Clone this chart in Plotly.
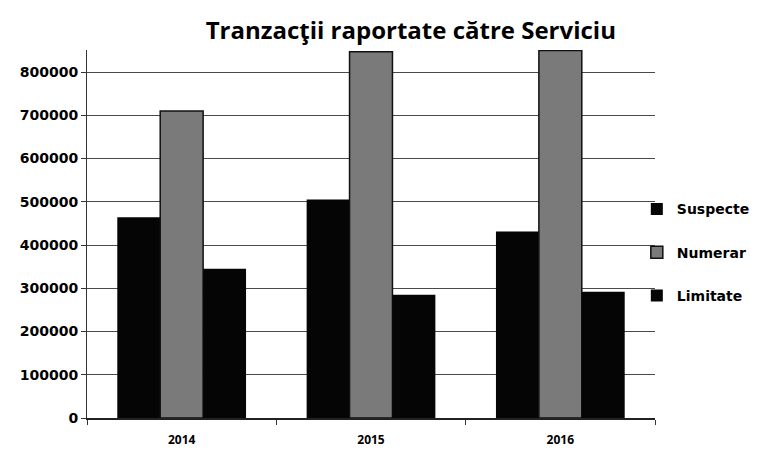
import plotly.graph_objects as go

# Date
ani = ["2014", "2015", "2016"]
suspecte = [464000, 505000, 431000]
numerar = [710000, 847000, 850000]
limitate = [345000, 285000, 292000]
y_ticks = [0, 100000, 200000, 300000, 400000, 500000, 600000, 700000, 800000]

FONT = "Open Sans"
FONT2 = "DejaVu Sans"

fig = go.Figure()

fig.add_trace(go.Bar(x=ani, y=suspecte, name="Suspecte",
                     marker=dict(color="#050505", line=dict(width=0)),
                     legendgroup="a"))
fig.add_trace(go.Bar(x=ani, y=numerar, name="Numerar",
                     marker=dict(color="#7a7a7a", line=dict(color="#111111", width=1.5)),
                     legendgroup="b"))
fig.add_trace(go.Bar(x=ani, y=limitate, name="Limitate",
                     marker=dict(color="#050505", line=dict(width=0)),
                     legendgroup="c"))

fig.update_layout(
    width=760, height=455,
    margin=dict(l=79, r=113, t=42, b=45, autoexpand=False),
    paper_bgcolor="white", plot_bgcolor="white",
    barmode="group", bargap=0.32, bargroupgap=0,
    font=dict(family=FONT, color="black", weight="bold"),
    title=dict(text="Tranzacţii raportate către Serviciu", x=0.53, xanchor="center",
               y=0.95, yanchor="middle",
               font=dict(family=FONT, size=24, color="black", weight="bold")),
    legend=dict(x=0.968, xanchor="left", y=0.45, yanchor="middle",
                font=dict(family=FONT2, size=14, color="black", weight="bold"),
                tracegroupgap=22, itemwidth=30, bgcolor="rgba(0,0,0,0)"),
    showlegend=True,
)

fig.update_yaxes(range=[0, 851000], tickvals=y_ticks,
                 ticktext=[str(v) for v in y_ticks],
                 showgrid=True, gridcolor="#4a4a4a", gridwidth=1,
                 showline=True, linecolor="#333333", linewidth=1,
                 ticks="outside", ticklen=5, tickcolor="#333333",
                 tickfont=dict(family=FONT2, size=14, color="black", weight="bold"),
                 zeroline=False)
fig.update_xaxes(showline=True, linecolor="#222222", linewidth=1.5,
                 ticks="outside", tickson="boundaries", ticklen=5, tickcolor="#333333",
                 ticklabelstandoff=10,
                 tickfont=dict(family=FONT, size=12, color="black", weight="bold"),
                 showgrid=False)

fig.write_html("out.html")
